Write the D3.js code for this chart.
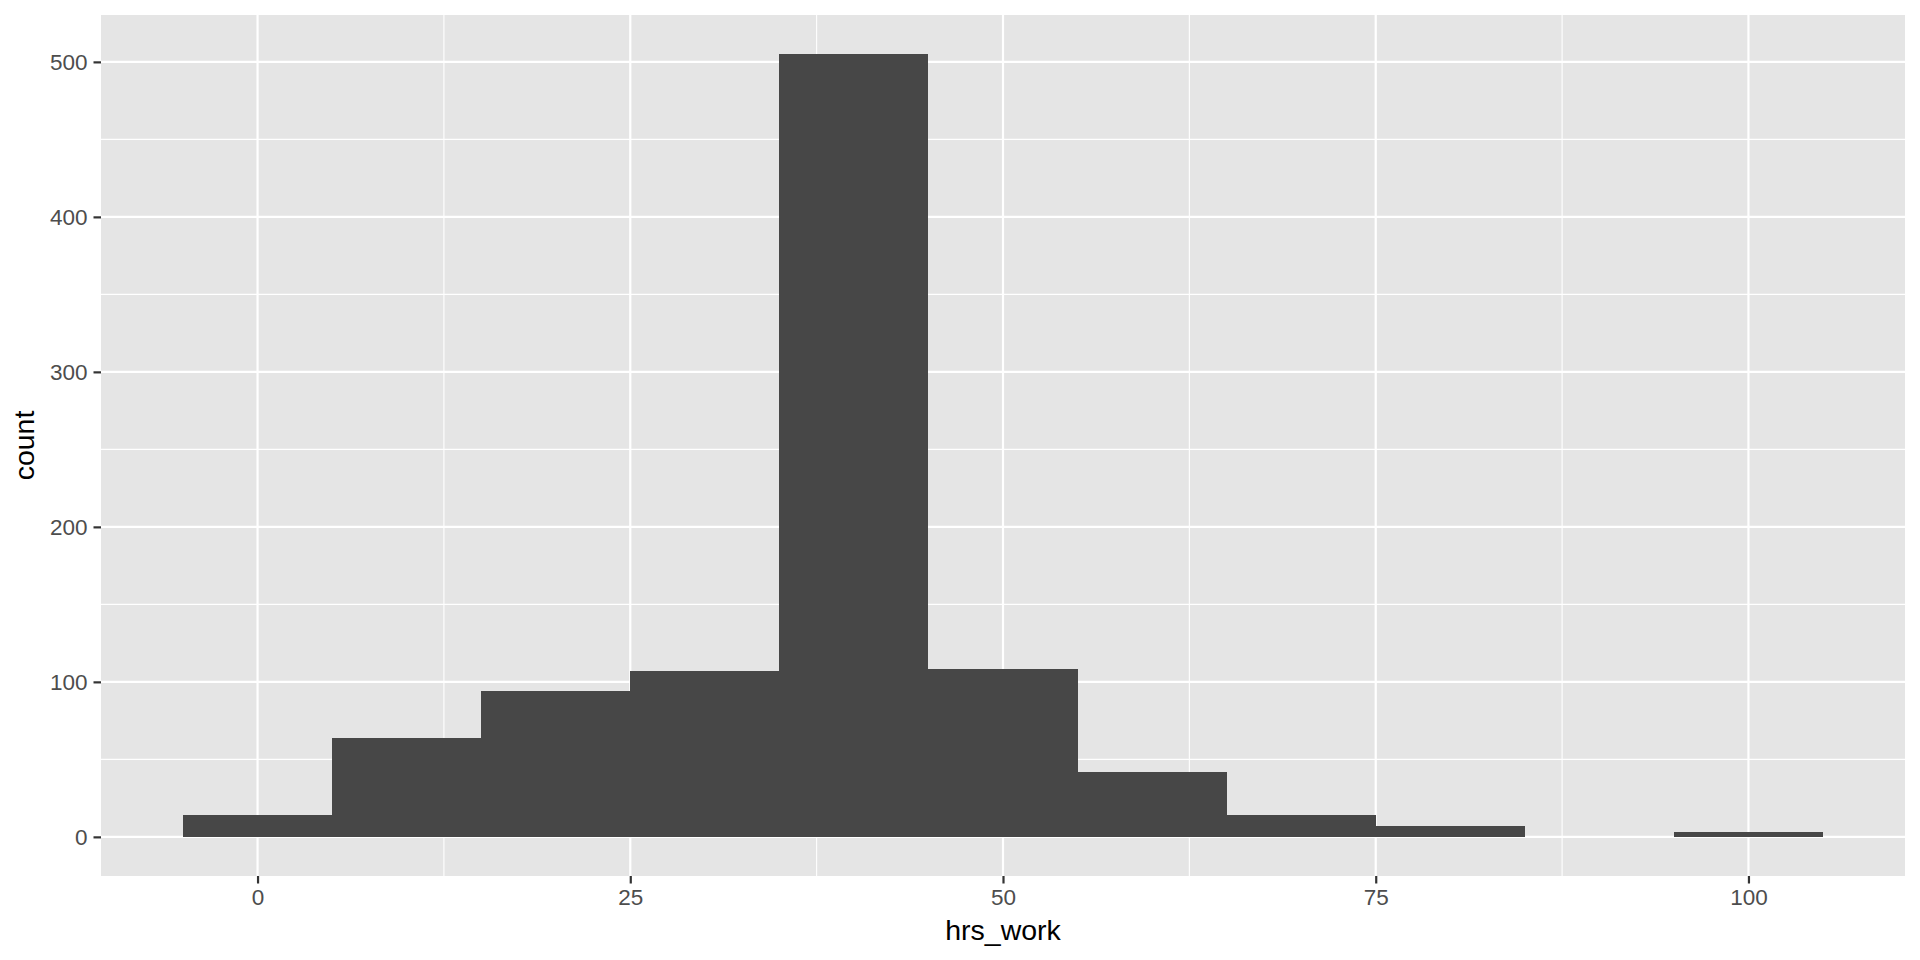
<!DOCTYPE html>
<html>
<head>
<meta charset="utf-8">
<script src="https://d3js.org/d3.v7.min.js"></script>
<style>
  body { margin: 0; background: #fff; }
  text { font-family: "Liberation Sans", Arial, sans-serif; }
</style>
</head>
<body>
<div id="chart"></div>
<script>
    // histogram of hrs_work, binwidth 10 centred on 0
    var binStart = [-5, 5, 15, 25, 35, 45, 55, 65, 75, 85, 95];
    var binEnd   = [5, 15, 25, 35, 45, 55, 65, 75, 85, 95, 105];
    var counts   = [14, 64, 94, 107, 505, 108, 42, 14, 7, 0, 3];
    var xTicks = [0, 25, 50, 75, 100];
    var xMinor = [12.5, 37.5, 62.5, 87.5];
    var yTicks = [0, 100, 200, 300, 400, 500];
    var yMinor = [50, 150, 250, 350, 450];

    var W = 1920, H = 960;
    var panel = { left: 101, top: 15, right: 1905, bottom: 876 };

    var x = d3.scaleLinear()
        .domain([-10.5, 110.5])
        .range([panel.left, panel.right]);
    var yMax = d3.max(counts);
    var y = d3.scaleLinear()
        .domain([-0.05 * yMax, 1.05 * yMax])
        .range([panel.bottom, panel.top]);

    var svg = d3.select("#chart").append("svg")
        .attr("width", W)
        .attr("height", H);

    svg.append("rect")
        .attr("x", panel.left).attr("y", panel.top)
        .attr("width", panel.right - panel.left)
        .attr("height", panel.bottom - panel.top)
        .attr("fill", "#E5E5E5");

    // grid
    var grid = svg.append("g");
    grid.selectAll(".ymin").data(yMinor).enter().append("line")
        .attr("x1", panel.left).attr("x2", panel.right)
        .attr("y1", d => y(d)).attr("y2", d => y(d))
        .attr("stroke", "#fff").attr("stroke-width", 1.1);
    grid.selectAll(".xmin").data(xMinor).enter().append("line")
        .attr("y1", panel.top).attr("y2", panel.bottom)
        .attr("x1", d => x(d)).attr("x2", d => x(d))
        .attr("stroke", "#fff").attr("stroke-width", 1.1);
    grid.selectAll(".ymaj").data(yTicks).enter().append("line")
        .attr("x1", panel.left).attr("x2", panel.right)
        .attr("y1", d => y(d)).attr("y2", d => y(d))
        .attr("stroke", "#fff").attr("stroke-width", 2.2);
    grid.selectAll(".xmaj").data(xTicks).enter().append("line")
        .attr("y1", panel.top).attr("y2", panel.bottom)
        .attr("x1", d => x(d)).attr("x2", d => x(d))
        .attr("stroke", "#fff").attr("stroke-width", 2.2);

    // bars
    svg.append("g").selectAll("rect")
        .data(counts)
        .enter().append("rect")
        .attr("x", (d, i) => x(binStart[i]))
        .attr("width", (d, i) => x(binEnd[i]) - x(binStart[i]))
        .attr("y", d => y(d))
        .attr("height", d => y(0) - y(d))
        .attr("shape-rendering", "crispEdges")
        .attr("fill", "#474747");

    // axes
    var xAxis = svg.append("g")
        .attr("transform", "translate(0," + panel.bottom + ")")
        .call(d3.axisBottom(x).tickValues(xTicks).tickSize(7.5).tickPadding(6));
    var yAxis = svg.append("g")
        .attr("transform", "translate(" + panel.left + ",0)")
        .call(d3.axisLeft(y).tickValues(yTicks).tickSize(7.5).tickPadding(6));

    [xAxis, yAxis].forEach(function (a) {
        a.select(".domain").remove();
        a.selectAll(".tick line").attr("stroke", "#333").attr("stroke-width", 2.2);
        a.selectAll(".tick text")
            .attr("fill", "#4D4D4D")
            .style("font-size", "22.5px")
            .style("font-family", "'Liberation Sans', Arial, sans-serif");
    });

    svg.append("text")
        .attr("x", (panel.left + panel.right) / 2)
        .attr("y", 940)
        .attr("text-anchor", "middle")
        .style("font-size", "28.5px")
        .attr("fill", "#000")
        .text("hrs_work");

    svg.append("text")
        .attr("transform", "translate(34," + ((panel.top + panel.bottom) / 2) + ") rotate(-90)")
        .attr("text-anchor", "middle")
        .style("font-size", "28.5px")
        .attr("fill", "#000")
        .text("count");
</script>
</body>
</html>
